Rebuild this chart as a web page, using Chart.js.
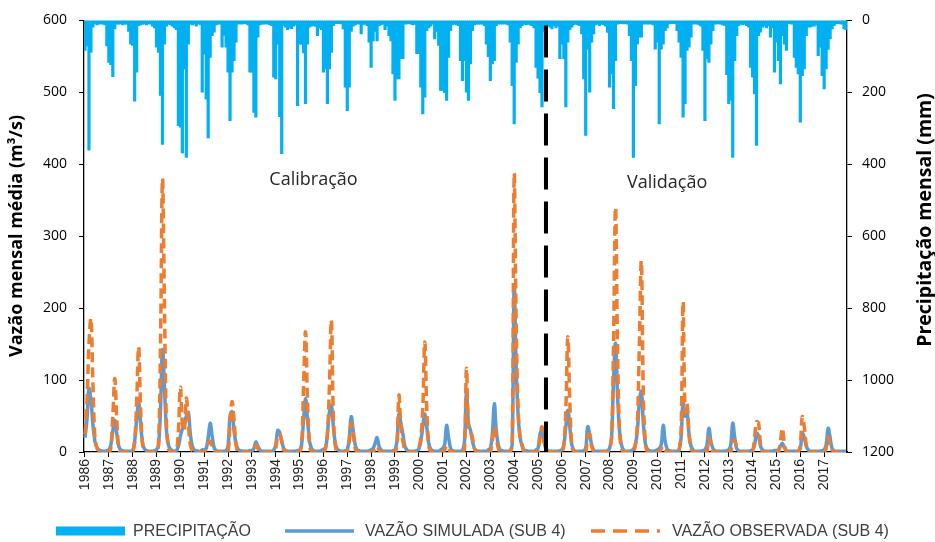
<!DOCTYPE html>
<html>
<head>
<meta charset="utf-8">
<script src="https://cdn.jsdelivr.net/npm/chart.js@4.4.1/dist/chart.umd.min.js"></script>
<style>
  html, body { margin: 0; padding: 0; background: #fff; }
  #wrap { width: 935px; height: 542px; }
</style>
</head>
<body>
<div id="wrap"><canvas id="chart" width="935" height="542"></canvas></div>
<script>
const anos = [1986, 1987, 1988, 1989, 1990, 1991, 1992, 1993, 1994, 1995, 1996,
  1997, 1998, 1999, 2000, 2001, 2002, 2003, 2004, 2005, 2006, 2007, 2008, 2009,
  2010, 2011, 2012, 2013, 2014, 2015, 2016, 2017];
const meses = ['01', '02', '03', '04', '05', '06', '07', '08', '09', '10', '11', '12'];

// precipitação mensal (mm), uma linha por ano (jan..dez)
const precipitacao = [
  83, 70, 360, 88, 18, 8, 12, 10, 9, 10, 12, 70,
  116, 122, 156, 23, 10, 10, 9, 12, 10, 10, 30, 65,
  69, 224, 143, 14, 12, 10, 10, 12, 9, 10, 15, 20,
  74, 88, 208, 344, 65, 15, 10, 12, 15, 20, 25, 292,
  296, 368, 134, 380, 65, 10, 12, 10, 15, 9, 12, 199,
  93, 218, 326, 102, 42, 32, 12, 10, 10, 74, 40, 74,
  143, 278, 143, 111, 60, 10, 9, 10, 8, 9, 12, 143,
  143, 255, 268, 46, 12, 10, 10, 9, 10, 12, 14, 157,
  162, 65, 267, 370, 14, 18, 25, 20, 22, 15, 12, 236,
  65, 65, 90, 231, 65, 18, 15, 14, 16, 42, 20, 25,
  143, 134, 231, 134, 88, 14, 8, 8, 8, 9, 23, 185,
  250, 185, 30, 15, 12, 9, 10, 37, 12, 10, 14, 60,
  130, 56, 30, 56, 14, 12, 10, 25, 15, 42, 56, 148,
  222, 162, 162, 106, 106, 10, 9, 8, 10, 12, 10, 92,
  92, 185, 259, 213, 28, 20, 15, 10, 51, 30, 69, 194,
  194, 200, 222, 102, 28, 12, 10, 12, 14, 111, 167, 111,
  199, 222, 120, 28, 12, 10, 10, 10, 10, 14, 65, 100,
  167, 120, 111, 14, 10, 9, 10, 9, 10, 12, 60, 181,
  287, 116, 65, 20, 14, 10, 12, 10, 12, 14, 20, 130,
  160, 200, 240, 30, 20, 14, 18, 23, 14, 20, 15, 106,
  65, 106, 240, 60, 25, 18, 12, 10, 12, 14, 37, 162,
  319, 79, 199, 60, 37, 12, 10, 14, 10, 12, 15, 33,
  185, 148, 245, 111, 10, 8, 8, 9, 8, 10, 42, 111,
  380, 181, 65, 46, 46, 10, 9, 10, 9, 10, 12, 79,
  60, 287, 79, 65, 28, 20, 9, 8, 8, 8, 28, 60,
  102, 268, 231, 83, 74, 46, 10, 9, 10, 12, 15, 83,
  278, 106, 116, 65, 28, 10, 9, 9, 10, 12, 14, 150,
  231, 222, 380, 111, 42, 14, 10, 12, 10, 14, 18, 130,
  157, 204, 347, 42, 32, 18, 15, 20, 14, 46, 20, 143,
  60, 111, 176, 42, 65, 83, 8, 9, 10, 102, 130, 148,
  282, 153, 134, 42, 18, 18, 15, 15, 12, 97, 74, 153,
  190, 134, 80, 51, 23, 14, 9, 8, 9, 10, 23, 25
];

// vazão simulada (m3/s)
const vazaoSimulada = [
  20, 45, 88, 72, 38, 15, 6, 3, 2, 1, 1, 2,
  3, 10, 30, 44, 25, 8, 3, 2, 1, 1, 1, 1,
  2, 15, 45, 70, 40, 12, 4, 2, 1, 1, 1, 2,
  3, 10, 60, 142, 90, 30, 10, 4, 2, 1, 2, 8,
  22, 32, 38, 50, 55, 25, 8, 3, 2, 1, 1, 3,
  3, 5, 20, 40, 22, 6, 2, 1, 1, 1, 1, 2,
  8, 50, 56, 30, 12, 4, 2, 1, 1, 1, 1, 2,
  2, 5, 14, 8, 3, 1, 1, 1, 1, 1, 1, 3,
  10, 30, 27, 15, 5, 2, 1, 1, 1, 1, 1, 2,
  2, 10, 45, 74, 45, 15, 5, 2, 1, 1, 1, 2,
  4, 5, 25, 55, 65, 35, 12, 4, 2, 1, 1, 2,
  3, 20, 49, 30, 10, 3, 2, 1, 1, 1, 1, 2,
  3, 5, 12, 20, 8, 3, 1, 1, 1, 1, 1, 2,
  3, 15, 53, 40, 25, 8, 3, 1, 1, 1, 1, 2,
  4, 15, 35, 53, 35, 12, 4, 2, 1, 1, 1, 3,
  5, 10, 37, 20, 5, 2, 1, 1, 1, 1, 2, 15,
  84, 40, 30, 15, 5, 2, 1, 1, 1, 1, 1, 3,
  5, 25, 67, 30, 10, 3, 2, 1, 1, 1, 2, 10,
  230, 120, 50, 20, 8, 3, 2, 1, 1, 1, 1, 3,
  5, 25, 30, 15, 5, 2, 1, 1, 1, 1, 1, 2,
  3, 10, 35, 58, 35, 10, 3, 1, 1, 1, 1, 2,
  5, 35, 25, 10, 3, 1, 1, 1, 1, 1, 1, 2,
  5, 20, 100, 151, 80, 30, 10, 3, 1, 1, 1, 2,
  4, 10, 30, 70, 84, 40, 12, 4, 2, 1, 1, 2,
  3, 5, 10, 37, 15, 4, 2, 1, 1, 1, 1, 3,
  20, 72, 50, 55, 25, 8, 3, 1, 1, 1, 1, 2,
  3, 10, 33, 15, 5, 2, 1, 1, 1, 1, 1, 2,
  3, 10, 40, 20, 5, 2, 1, 1, 1, 1, 1, 2,
  3, 10, 26, 22, 8, 3, 1, 1, 1, 1, 1, 2,
  2, 3, 8, 12, 6, 2, 1, 1, 1, 1, 1, 2,
  5, 26, 20, 8, 3, 1, 1, 1, 1, 1, 1, 2,
  3, 10, 33, 20, 5, 2, 1, 1, 1, 1, 1, 1
];

// vazão observada (m3/s)
const vazaoObservada = [
  25, 70, 150, 185, 95, 20, 6, 2, 1, 0, 0, 0,
  0, 5, 50, 102, 45, 5, 0, 0, 0, 0, 0, 0,
  0, 15, 70, 146, 60, 10, 2, 0, 0, 0, 0, 0,
  0, 10, 150, 380, 200, 40, 5, 0, 0, 0, 0, 30,
  90, 40, 30, 75, 40, 10, 2, 0, 0, 0, 0, 0,
  0, 5, 12, 15, 8, 0, 0, 0, 0, 0, 0, 0,
  0, 40, 70, 45, 10, 0, 0, 0, 0, 0, 0, 0,
  0, 3, 10, 5, 0, 0, 0, 0, 0, 0, 0, 0,
  5, 22, 25, 15, 3, 0, 0, 0, 0, 0, 0, 0,
  0, 10, 90, 167, 70, 10, 0, 0, 0, 0, 0, 0,
  0, 5, 25, 90, 183, 50, 8, 0, 0, 0, 0, 0,
  0, 15, 40, 25, 5, 0, 0, 0, 0, 0, 0, 0,
  0, 0, 5, 8, 3, 0, 0, 0, 0, 0, 0, 0,
  0, 10, 79, 35, 15, 3, 0, 0, 0, 0, 0, 0,
  5, 20, 60, 153, 60, 10, 0, 0, 0, 0, 0, 0,
  0, 3, 9, 5, 0, 0, 0, 0, 0, 0, 0, 5,
  116, 35, 30, 20, 5, 0, 0, 0, 0, 0, 0, 0,
  0, 15, 35, 20, 5, 0, 0, 0, 0, 0, 0, 10,
  385, 180, 60, 20, 10, 0, 0, 0, 0, 0, 0, 0,
  0, 20, 35, 15, 5, 0, 0, 0, 0, 0, 0, 0,
  0, 10, 60, 160, 70, 10, 0, 0, 0, 0, 0, 0,
  0, 20, 25, 8, 0, 0, 0, 0, 0, 0, 0, 0,
  5, 20, 150, 340, 150, 30, 5, 0, 0, 0, 0, 0,
  0, 10, 40, 150, 265, 80, 15, 0, 0, 0, 0, 0,
  0, 0, 5, 8, 3, 0, 0, 0, 0, 0, 0, 3,
  30, 209, 55, 67, 25, 5, 0, 0, 0, 0, 0, 0,
  0, 0, 20, 8, 0, 0, 0, 0, 0, 0, 0, 0,
  0, 0, 15, 16, 5, 0, 0, 0, 0, 0, 0, 0,
  0, 20, 42, 40, 10, 0, 0, 0, 0, 0, 0, 0,
  0, 0, 15, 33, 10, 0, 0, 0, 0, 0, 0, 0,
  10, 49, 35, 10, 0, 0, 0, 0, 0, 0, 0, 0,
  0, 5, 21, 10, 3, 0, 0, 0, 0, 0, 0, 0
];

const inicioValidacao = '2005-05';
const rotulos = [
  { texto: 'Calibração', mes: '1995-08', valor: 378 },
  { texto: 'Validação', mes: '2010-06', valor: 374 }
];

const categorias = anos.flatMap(a => meses.map(m => a + '-' + m));

const fonteTexto = '"Open Sans", "Noto Sans", sans-serif';
const fonteArial = '"Liberation Sans", Arial, sans-serif';

function tituloVertical(ctx, texto, x, y, tamanho) {
  ctx.save();
  ctx.fillStyle = '#000';
  ctx.font = 'bold ' + tamanho + 'px ' + fonteTexto;
  ctx.textAlign = 'center';
  ctx.textBaseline = 'middle';
  ctx.translate(x, y);
  ctx.rotate(-Math.PI / 2);
  ctx.fillText(texto, 0, 0);
  ctx.restore();
}

const extras = {
  id: 'extras',
  afterDatasetsDraw(chart) {
    const { ctx, chartArea, scales } = chart;
    const x = scales.x.getPixelForValue(categorias.indexOf(inicioValidacao));
    ctx.save();
    ctx.strokeStyle = '#000';
    ctx.lineWidth = 4;
    ctx.setLineDash([32, 12]);
    ctx.beginPath();
    ctx.moveTo(x, chartArea.top + 5);
    ctx.lineTo(x, chartArea.bottom);
    ctx.stroke();
    ctx.setLineDash([]);

    ctx.fillStyle = '#262626';
    ctx.font = '18px ' + fonteTexto;
    ctx.textAlign = 'center';
    ctx.textBaseline = 'middle';
    rotulos.forEach(r => {
      ctx.fillText(r.texto, scales.x.getPixelForValue(categorias.indexOf(r.mes)), scales.y.getPixelForValue(r.valor));
    });
    ctx.restore();
  },
  afterDraw(chart) {
    const { ctx } = chart;
    tituloVertical(ctx, 'Vazão mensal média (m³/s)', 17, 236, 18);
    tituloVertical(ctx, 'Precipitação mensal (mm)', 925, 220, 19.5);

    // legenda
    const ds = chart.data.datasets;
    const y = 531;
    const itens = [
      { x0: 56, x1: 125, tx: 133 },
      { x0: 285, x1: 354, tx: 365 },
      { x0: 591, x1: 660, tx: 672 }
    ];
    ctx.save();
    ctx.font = '16px ' + fonteArial;
    ctx.textBaseline = 'middle';
    ctx.textAlign = 'left';
    itens.forEach((it, i) => {
      const d = ds[i];
      if (d.type === 'bar') {
        ctx.fillStyle = d.backgroundColor;
        ctx.fillRect(it.x0, y - 4.5, it.x1 - it.x0, 9);
      } else {
        ctx.strokeStyle = d.borderColor;
        ctx.lineWidth = d.borderWidth;
        ctx.setLineDash(d.borderDash ? [14, 8] : []);
        ctx.beginPath();
        ctx.moveTo(it.x0, y);
        ctx.lineTo(it.x1, y);
        ctx.stroke();
        ctx.setLineDash([]);
      }
      ctx.fillStyle = '#404040';
      ctx.fillText(d.label, it.tx, y + 1);
    });
    ctx.restore();
  }
};

const ctx = document.getElementById('chart').getContext('2d');
const grafico = new Chart(ctx, {
  data: {
    labels: categorias,
    datasets: [
      {
        type: 'bar',
        label: 'PRECIPITAÇÃO',
        data: precipitacao,
        yAxisID: 'yPrec',
        backgroundColor: '#00B0F0',
        borderWidth: 0,
        barPercentage: 1,
        categoryPercentage: 1,
        inflateAmount: 0.6,
        order: 3
      },
      {
        type: 'line',
        label: 'VAZÃO SIMULADA (SUB 4)',
        data: vazaoSimulada,
        yAxisID: 'y',
        borderColor: '#5B9BD5',
        borderWidth: 3.5,
        pointRadius: 0,
        tension: 0.4,
        order: 2
      },
      {
        type: 'line',
        label: 'VAZÃO OBSERVADA (SUB 4)',
        data: vazaoObservada,
        yAxisID: 'y',
        borderColor: '#ED7D31',
        borderWidth: 3.5,
        borderDash: [10, 5],
        pointRadius: 0,
        tension: 0.4,
        order: 1
      }
    ]
  },
  options: {
    responsive: false,
    animation: false,
    devicePixelRatio: 1,
    layout: { padding: { top: 20, left: 0, right: 0, bottom: 0 } },
    plugins: { legend: { display: false }, tooltip: { enabled: false } },
    scales: {
      x: {
        type: 'category',
        grid: { drawOnChartArea: false, drawTicks: true, tickLength: 5, color: '#000', offset: false },
        border: { color: '#000', width: 1.3 },
        ticks: {
          autoSkip: false,
          minRotation: 90,
          maxRotation: 90,
          padding: 2,
          color: '#222',
          font: { family: fonteArial, size: 14 },
          callback(v) { return this.getLabelForValue(v).slice(0, 4); }
        },
        afterBuildTicks(scale) { scale.ticks = scale.ticks.filter(t => t.value % 12 === 0); },
        afterFit(scale) { scale.height = 90; }
      },
      y: {
        position: 'left',
        min: 0,
        max: 600,
        grid: { drawOnChartArea: false, tickLength: 5, color: '#000' },
        border: { color: '#000', width: 1.3 },
        ticks: { stepSize: 100, padding: 12, color: '#000', font: { family: fonteTexto, size: 14 } },
        afterFit(scale) { scale.width = 84; }
      },
      yPrec: {
        position: 'right',
        reverse: true,
        min: 0,
        max: 1200,
        grid: { drawOnChartArea: false, tickLength: 5, color: '#000' },
        border: { color: '#000', width: 1.3 },
        ticks: {
          stepSize: 200,
          padding: 10,
          color: '#000',
          font: { family: fonteTexto, size: 14 },
          callback: v => String(v)
        },
        afterFit(scale) { scale.width = 88; }
      }
    }
  },
  plugins: [extras]
});
</script>
</body>
</html>
